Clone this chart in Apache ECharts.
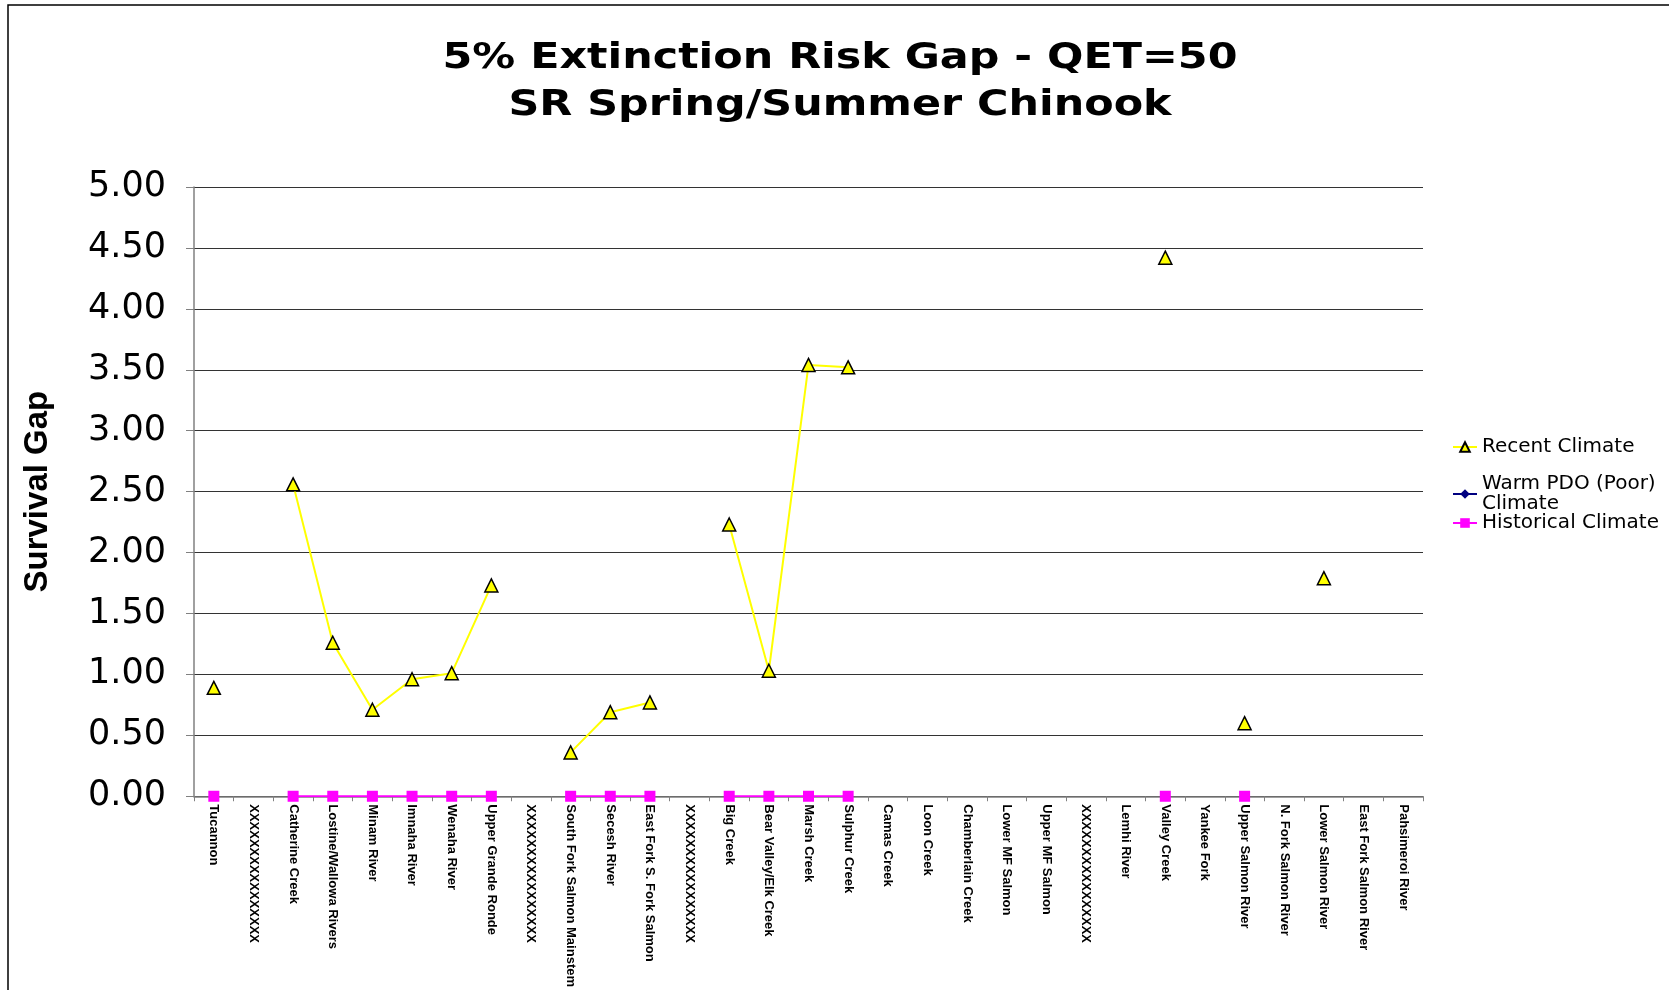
<!DOCTYPE html>
<html>
<head>
<meta charset="utf-8">
<script src="https://cdn.jsdelivr.net/npm/echarts@6/dist/echarts.min.js"></script>
<style>
html,body{margin:0;padding:0;background:#fff;}
#chart{width:1669px;height:990px;}
</style>
</head>
<body>
<div id="chart"></div>
<script>
var categories = ['Tucannon','XXXXXXXXXXXXXXXX','Catherine Creek','Lostine/Wallowa Rivers','Minam River','Imnaha River','Wenaha River','Upper Grande Ronde','XXXXXXXXXXXXXXXX','South Fork Salmon Mainstem','Secesh River','East Fork S. Fork Salmon','XXXXXXXXXXXXXXXX','Big Creek','Bear Valley/Elk Creek','Marsh Creek','Sulphur Creek','Camas Creek','Loon Creek','Chamberlain Creek','Lower MF Salmon','Upper MF Salmon','XXXXXXXXXXXXXXXX','Lemhi River','Valley Creek','Yankee Fork','Upper Salmon River','N. Fork Salmon River','Lower Salmon River','East Fork Salmon River','Pahsimeroi River'];
var recentClimate = [0.89, null, 2.56, 1.26, 0.71, 0.96, 1.01, 1.73, null, 0.36, 0.69, 0.77, null, 2.23, 1.03, 3.54, 3.52, null, null, null, null, null, null, null, 4.42, null, 0.60, null, 1.79, null, null];
var warmPdoClimate = [null, null, null, null, null, null, null, null, null, null, null, null, null, null, null, null, null, null, null, null, null, null, null, null, null, null, null, null, null, null, null];
var historicalClimate = [0, null, 0, 0, 0, 0, 0, 0, null, 0, 0, 0, null, 0, 0, 0, 0, null, null, null, null, null, null, null, 0, null, 0, null, null, null, null];
var yTicks = [0, 5, 0.5];
var titleLines = '5% Extinction Risk Gap - QET=50\nSR Spring/Summer Chinook';

var chart = echarts.init(document.getElementById('chart'), null, {renderer: 'canvas'});
var legendText = {fontFamily: 'DejaVu Sans', fontSize: 20, color: '#000'};
var option = {
  backgroundColor: '#fff',
  animation: false,
  graphic: [{
    type: 'rect', z: -1, silent: true,
    shape: {x: 8, y: 5, width: 1700, height: 1000},
    style: {fill: 'none', stroke: '#000', lineWidth: 1.5}
  }, {
    type: 'text', x: 840, y: 35, scaleX: 1.19, silent: true,
    style: {text: titleLines, align: 'center', verticalAlign: 'top',
      fontFamily: 'DejaVu Sans', fontWeight: 'bold', fontSize: 36, lineHeight: 47, fill: '#000'}
  }],
  legend: [
    {data: ['Recent Climate'], left: 1447, top: 432, itemWidth: 24, itemHeight: 12, itemGap: 6, textStyle: legendText},
    {data: ['Warm PDO (Poor) Climate'], left: 1447, top: 469, itemWidth: 24, itemHeight: 12,
     formatter: function(){ return 'Warm PDO (Poor)\nClimate'; },
     textStyle: {fontFamily: 'DejaVu Sans', fontSize: 20, color: '#000', lineHeight: 20}},
    {data: ['Historical Climate'], left: 1447, top: 508, itemWidth: 24, itemHeight: 12, textStyle: legendText}
  ],
  grid: {left: 194, right: 246, top: 187, bottom: 191, containLabel: false},
  xAxis: {
    type: 'category', data: categories, boundaryGap: true,
    axisLine: {show: true, lineStyle: {color: '#808080', width: 1.5}},
    axisTick: {show: true, interval: 0, length: 5, lineStyle: {color: '#808080'}},
    axisLabel: {interval: 0, rotate: -90, margin: 8, fontFamily: 'Liberation Sans', fontWeight: 'bold', fontSize: 13, color: '#000'},
    splitLine: {show: false}
  },
  yAxis: {
    type: 'value', min: yTicks[0], max: yTicks[1], interval: yTicks[2],
    name: 'Survival Gap', nameLocation: 'middle', nameRotate: 90, nameGap: 140,
    nameTextStyle: {fontFamily: 'Liberation Sans', fontWeight: 'bold', fontSize: 33, color: '#000'},
    axisLine: {show: true, lineStyle: {color: '#808080', width: 1.5}},
    axisTick: {show: true, inside: false, length: 8, lineStyle: {color: '#808080'}},
    axisLabel: {margin: 28, fontFamily: 'DejaVu Sans', fontSize: 35, color: '#000', formatter: function(v){ return v.toFixed(2); }},
    splitLine: {show: true, lineStyle: {color: '#333', width: 1.2}}
  },
  series: [
    {name: 'Recent Climate', type: 'line', data: recentClimate, connectNulls: false,
     symbol: 'triangle', symbolSize: 13, showAllSymbol: true,
     lineStyle: {color: '#FFFF00', width: 2},
     itemStyle: {color: '#FFFF00', borderColor: '#000', borderWidth: 1.5}, z: 3},
    {name: 'Warm PDO (Poor) Climate', type: 'line', data: warmPdoClimate,
     symbol: 'diamond', symbolSize: 9,
     lineStyle: {color: '#000080', width: 2},
     itemStyle: {color: '#000080'}},
    {name: 'Historical Climate', type: 'line', data: historicalClimate, connectNulls: false,
     symbol: 'rect', symbolSize: 11, showAllSymbol: true,
     lineStyle: {color: '#FF00FF', width: 2},
     itemStyle: {color: '#FF00FF'}, z: 4}
  ]
};
chart.setOption(option);
</script>
</body>
</html>
